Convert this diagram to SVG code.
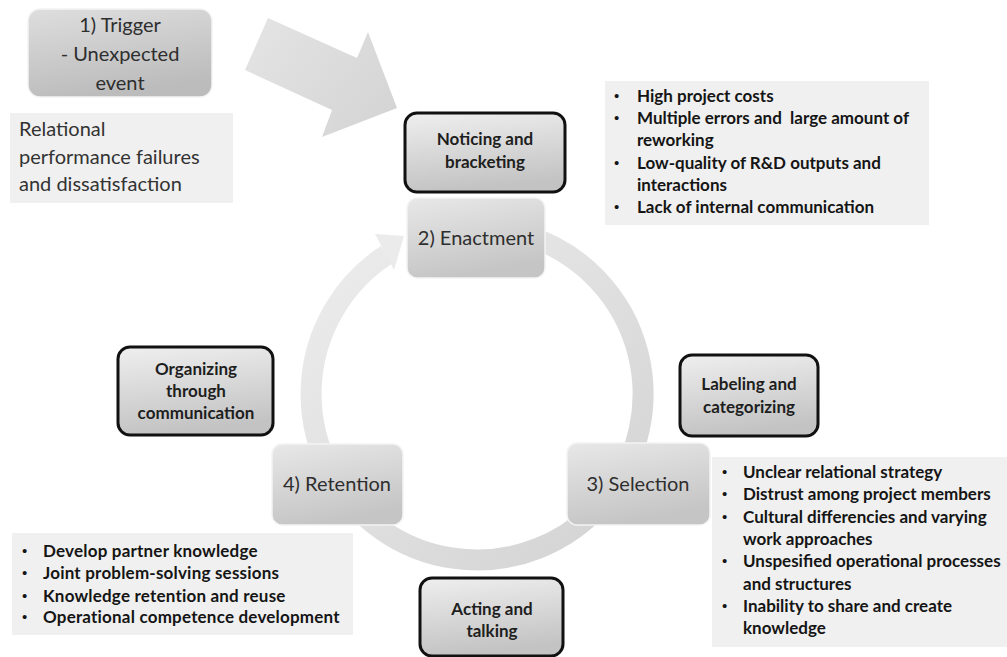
<svg xmlns="http://www.w3.org/2000/svg" width="1007" height="657" viewBox="0 0 1007 657">
  <defs>
    <linearGradient id="procFill" x1="0" y1="0" x2="0.3" y2="1">
      <stop offset="0" stop-color="#e8e8e8"/>
      <stop offset="1" stop-color="#c5c5c5"/>
    </linearGradient>
    <linearGradient id="triggerFill" x1="0" y1="0" x2="0.3" y2="1">
      <stop offset="0" stop-color="#dedede"/>
      <stop offset="1" stop-color="#bcbcbc"/>
    </linearGradient>
    <linearGradient id="tagFill" x1="0" y1="0" x2="0.2" y2="1">
      <stop offset="0" stop-color="#efefef"/>
      <stop offset="1" stop-color="#c3c3c3"/>
    </linearGradient>
    <linearGradient id="ringFill" gradientUnits="userSpaceOnUse" x1="320" y1="230" x2="640" y2="570">
      <stop offset="0" stop-color="#ededed"/>
      <stop offset="1" stop-color="#d2d2d2"/>
    </linearGradient>
    <linearGradient id="bigArrowFill" gradientUnits="userSpaceOnUse" x1="250" y1="20" x2="390" y2="130">
      <stop offset="0" stop-color="#e4e4e4"/>
      <stop offset="1" stop-color="#d4d4d4"/>
    </linearGradient>
  </defs>
  <style>
    .proc { fill: url(#procFill); stroke: #f4f4f4; stroke-width: 1.5; }
    .trigger { fill: url(#triggerFill); stroke: #f4f4f4; stroke-width: 1.5; }
    .tag { fill: url(#tagFill); stroke: #111111; stroke-width: 3; }
    .panel { fill: #f0f0f0; }
    .lbl { font-family: Lato, "Liberation Sans", sans-serif; font-size: 20px; fill: #2e2e2e; text-anchor: middle; }
    .plain { font-family: Lato, "Liberation Sans", sans-serif; font-size: 20px; fill: #333333; }
    .tagtxt { font-family: Lato, "Liberation Sans", sans-serif; font-size: 17px; font-weight: bold; fill: #1e1e1e; text-anchor: middle; }
    .bul { font-family: Lato, "Liberation Sans", sans-serif; font-size: 17px; font-weight: bold; fill: #151515; }
    .dot { font-family: "Liberation Sans", sans-serif; font-size: 15px; fill: #151515; }
  </style>

  <rect width="1007" height="657" fill="#ffffff"/>

  <!-- connectors: trigger arrow and the continuous cycle ring -->
  <g id="connectors">
    <polygon points="268,18 357,58 368,32 397,108 322,137 332,110 245,70" fill="url(#bigArrowFill)"/>
    <path d="M 448.2 230.5 A 166 166 0 1 1 386.6 254.8" fill="none" stroke="url(#ringFill)" stroke-width="21"/>
    <polygon points="375,234 404,236 394,270" fill="#ebebeb"/>
  </g>

  <g id="trigger">
    <rect class="trigger" x="28" y="9" width="184" height="88" rx="12"/>
    <text class="lbl" x="120" y="32">1) Trigger</text>
    <text class="lbl" x="120" y="61">- Unexpected</text>
    <text class="lbl" x="120" y="90">event</text>
  </g>

  <g id="relational-failures">
    <rect class="panel" x="10" y="113" width="223" height="90"/>
    <text class="plain" x="19" y="136">Relational</text>
    <text class="plain" x="19" y="164">performance failures</text>
    <text class="plain" x="19" y="191">and dissatisfaction</text>
  </g>

  <g id="noticing">
    <rect class="tag" x="405" y="113" width="160" height="79" rx="12"/>
    <text class="tagtxt" x="485" y="145">Noticing and</text>
    <text class="tagtxt" x="485" y="168">bracketing</text>
  </g>

  <g id="enactment-issues">
    <rect class="panel" x="605" y="81" width="324" height="144"/>
    <g class="dot">
      <text x="614" y="101">•</text>
      <text x="614" y="123">•</text>
      <text x="614" y="168">•</text>
      <text x="614" y="212">•</text>
    </g>
    <g class="bul">
      <text x="637" y="102">High project costs</text>
      <text x="637" y="124" xml:space="preserve">Multiple errors and  large amount of</text>
      <text x="637" y="146">reworking</text>
      <text x="637" y="169">Low-quality of R&amp;D outputs and</text>
      <text x="637" y="191">interactions</text>
      <text x="637" y="213">Lack of internal communication</text>
    </g>
  </g>

  <g id="enactment">
    <rect class="proc" x="407" y="198" width="138" height="80" rx="10"/>
    <text class="lbl" x="476" y="245">2) Enactment</text>
  </g>

  <g id="labeling">
    <rect class="tag" x="680" y="355" width="138" height="81" rx="12"/>
    <text class="tagtxt" x="749" y="390">Labeling and</text>
    <text class="tagtxt" x="749" y="413">categorizing</text>
  </g>

  <g id="selection">
    <rect class="proc" x="567" y="443" width="143" height="82" rx="10"/>
    <text class="lbl" x="638" y="491">3) Selection</text>
  </g>

  <g id="selection-issues">
    <rect class="panel" x="712" y="457" width="295" height="190"/>
    <g class="dot">
      <text x="722" y="477">•</text>
      <text x="722" y="499">•</text>
      <text x="722" y="522">•</text>
      <text x="722" y="566">•</text>
      <text x="722" y="611">•</text>
    </g>
    <g class="bul">
      <text x="743" y="478">Unclear relational strategy</text>
      <text x="743" y="500">Distrust among project members</text>
      <text x="743" y="523">Cultural differencies and varying</text>
      <text x="743" y="545">work approaches</text>
      <text x="743" y="567">Unspesified operational processes</text>
      <text x="743" y="590">and structures</text>
      <text x="743" y="612">Inability to share and create</text>
      <text x="743" y="634">knowledge</text>
    </g>
  </g>

  <g id="organizing">
    <rect class="tag" x="118" y="347" width="155" height="88" rx="12"/>
    <text class="tagtxt" x="196" y="375">Organizing</text>
    <text class="tagtxt" x="196" y="397">through</text>
    <text class="tagtxt" x="196" y="419">communication</text>
  </g>

  <g id="retention">
    <rect class="proc" x="272" y="444" width="131" height="81" rx="10"/>
    <text class="lbl" x="337" y="491">4) Retention</text>
  </g>

  <g id="retention-actions">
    <rect class="panel" x="12" y="533" width="341" height="102"/>
    <g class="dot">
      <text x="22" y="556">•</text>
      <text x="22" y="578">•</text>
      <text x="22" y="601">•</text>
      <text x="22" y="622">•</text>
    </g>
    <g class="bul" letter-spacing="0.2">
      <text x="43" y="557">Develop partner knowledge</text>
      <text x="43" y="579">Joint problem-solving sessions</text>
      <text x="43" y="602">Knowledge retention and reuse</text>
      <text x="43" y="623">Operational competence development</text>
    </g>
  </g>

  <g id="acting">
    <rect class="tag" x="420" y="578" width="143" height="78" rx="12"/>
    <text class="tagtxt" x="492" y="615">Acting and</text>
    <text class="tagtxt" x="492" y="637">talking</text>
  </g>
</svg>
